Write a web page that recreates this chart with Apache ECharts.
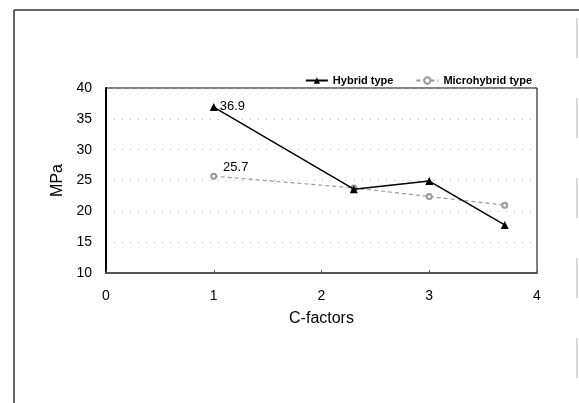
<!DOCTYPE html>
<html>
<head>
<meta charset="utf-8">
<script src="https://cdn.jsdelivr.net/npm/echarts@6/dist/echarts.min.js"></script>
<style>
  html, body { margin: 0; padding: 0; background: #fff; }
  #chart { width: 579px; height: 403px; }
</style>
</head>
<body>
<div id="chart"></div>
<script>
  const cFactors = [1, 2.3, 3, 3.7];
  const hybrid = [36.9, 23.6, 24.9, 17.8];
  const microhybrid = [25.7, 23.8, 22.4, 21.0];
  const seriesNames = ["Hybrid type", "Microhybrid type"];

  const font = "Liberation Sans, Arial, sans-serif";

  function pairs(xs, ys) {
    return xs.map((x, i) => [x, ys[i]]);
  }

  const chart = echarts.init(document.getElementById("chart"));
  chart.setOption({
    animation: false,
    backgroundColor: "#fff",
    textStyle: { fontFamily: font, color: "#000" },
    graphic: [
      { type: "line", shape: { x1: 14, y1: 10, x2: 14, y2: 403 }, style: { stroke: "#333", lineWidth: 1.5 } },
      { type: "line", shape: { x1: 14, y1: 10, x2: 579, y2: 10 }, style: { stroke: "#333", lineWidth: 1.5 } },
      { type: "line", shape: { x1: 577, y1: 18, x2: 577, y2: 403 }, style: { stroke: "#ccc", lineWidth: 1.5, lineDash: [40, 40] } }
    ],
    legend: {
      right: 42,
      top: 70,
      itemGap: 22,
      itemWidth: 22,
      itemHeight: 8,
      textStyle: { fontFamily: font, fontSize: 11, fontWeight: "bold", color: "#000" },
      data: seriesNames
    },
    grid: {
      left: 106, right: 42, top: 88, bottom: 130,
      show: true, borderColor: "#000", borderWidth: 1
    },
    xAxis: {
      type: "value",
      min: 0, max: 4, interval: 1,
      name: "C-factors",
      nameLocation: "middle",
      nameGap: 38,
      nameTextStyle: { fontFamily: font, fontSize: 16, color: "#000" },
      axisLine: { lineStyle: { color: "#555", width: 2 } },
      axisTick: { show: true, inside: true, length: 3, lineStyle: { color: "#555" } },
      axisLabel: { fontFamily: font, fontSize: 14, color: "#000", margin: 16 },
      splitLine: { show: false }
    },
    yAxis: {
      type: "value",
      min: 10, max: 40, interval: 5,
      name: "MPa",
      nameLocation: "middle",
      nameGap: 40,
      nameTextStyle: { fontFamily: font, fontSize: 16, color: "#000" },
      axisLine: { lineStyle: { color: "#000", width: 2 } },
      axisTick: { show: false },
      axisLabel: { fontFamily: font, fontSize: 14, color: "#000", margin: 14 },
      splitLine: { lineStyle: { color: "#bbb", type: [1, 7], width: 1 } }
    },
    series: [
      {
        name: seriesNames[0],
        type: "line",
        data: pairs(cFactors, hybrid),
        symbol: "triangle",
        symbolSize: 8,
        lineStyle: { color: "#000", width: 1.5 },
        itemStyle: { color: "#000" },
        label: {
          show: true,
          formatter: (p) => (p.dataIndex === 0 ? String(p.value[1]) : ""),
          position: "right",
          distance: 2,
          offset: [0, -1],
          fontFamily: font,
          fontSize: 13,
          color: "#000"
        },
        z: 3
      },
      {
        name: seriesNames[1],
        type: "line",
        data: pairs(cFactors, microhybrid),
        symbol: "emptyCircle",
        symbolSize: 5,
        lineStyle: { color: "#999", width: 1.2, type: [4, 3] },
        itemStyle: { color: "#999", borderColor: "#999", borderWidth: 1 },
        label: {
          show: true,
          formatter: (p) => (p.dataIndex === 0 ? String(p.value[1]) : ""),
          position: "top",
          offset: [22, 6],
          fontFamily: font,
          fontSize: 13,
          color: "#000"
        },
        z: 2
      }
    ]
  });
</script>
</body>
</html>
